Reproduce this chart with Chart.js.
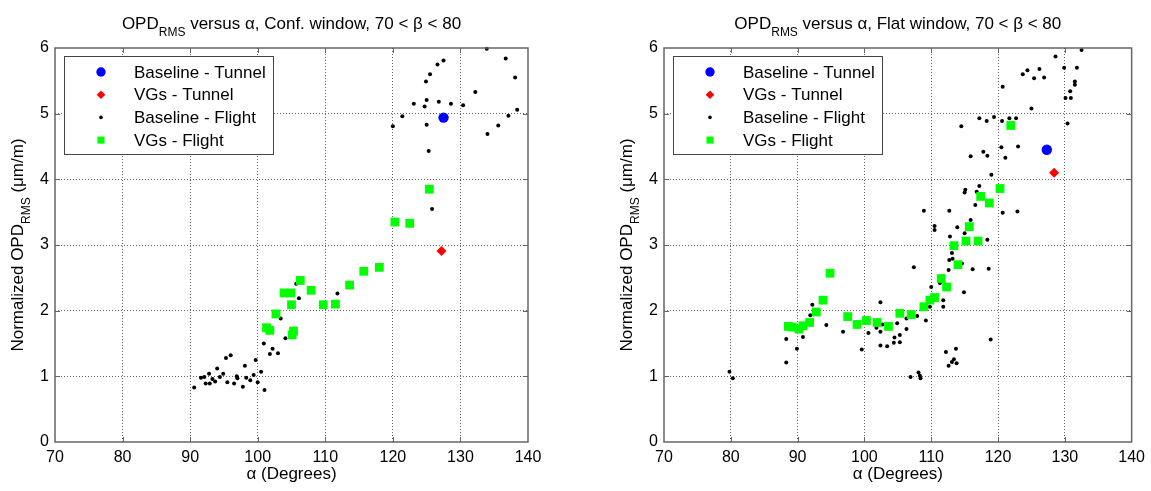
<!DOCTYPE html>
<html>
<head>
<meta charset="utf-8">
<script src="https://cdn.jsdelivr.net/npm/chart.js@4.4.1/dist/chart.umd.min.js"></script>
<style>
  body { margin: 0; background: #fff; }
  canvas { position: absolute; top: 0; }
  #conf { left: 0; }
  #flat { left: 575px; }
</style>
</head>
<body>
<canvas id="conf" width="575" height="491"></canvas>
<canvas id="flat" width="576" height="491"></canvas>
<script>
// axis ticks
var ticksX = [70, 80, 90, 100, 110, 120, 130, 140];
var ticksY = [0, 1, 2, 3, 4, 5, 6];

// Conf. window
var confBaseTunnelAlpha = [127.5];
var confBaseTunnelOpd = [4.94];
var confVgTunnelAlpha = [127.2];
var confVgTunnelOpd = [2.91];
var confBaseFlightAlpha = [90.6, 91.6, 92.1, 92.3, 92.8, 92.9, 93.3, 93.7, 94.0, 94.4, 94.9, 95.3, 95.5, 96.0, 96.5, 96.9, 97.0, 97.8, 98.1, 98.3,
  98.9, 99.4, 99.7, 100.0, 100.5, 100.9, 101.0, 101.8, 102.2, 103.0, 103.4, 104.1, 105.7, 106.1, 111.8, 120.0, 121.4, 123.1, 124.7, 124.9,
  125.0, 125.0, 125.3, 125.5, 125.8, 126.6, 126.8, 127.5, 128.6, 130.4, 132.2, 133.9, 134.0, 135.6, 136.7, 137.1, 138.1, 138.4];
var confBaseFlightOpd = [0.83, 0.98, 0.99, 0.89, 1.04, 0.89, 0.96, 0.92, 1.12, 0.99, 1.04, 1.28, 0.91, 1.32, 0.89, 1.00, 0.97, 0.84, 1.16, 0.98,
  0.94, 1.02, 1.25, 0.91, 1.07, 1.50, 0.79, 1.34, 1.42, 1.35, 1.88, 1.58, 2.41, 2.19, 2.26, 4.81, 4.96, 5.15, 5.11, 5.49,
  5.21, 4.83, 4.43, 5.60, 3.55, 5.75, 5.18, 5.81, 5.15, 5.13, 5.33, 5.99, 4.69, 4.82, 5.84, 4.97, 5.55, 5.06];
var confVgFlightAlpha = [101.3, 101.8, 102.7, 103.9, 104.9, 105.0, 105.1, 105.3, 106.3, 107.9, 109.7, 111.5, 113.6, 115.7, 118.0, 120.3, 122.5, 125.4];
var confVgFlightOpd = [1.74, 1.70, 1.95, 2.27, 2.27, 2.09, 1.63, 1.69, 2.46, 2.31, 2.09, 2.10, 2.39, 2.60, 2.66, 3.35, 3.33, 3.85];

// Flat window
var flatBaseTunnelAlpha = [127.3];
var flatBaseTunnelOpd = [4.45];
var flatVgTunnelAlpha = [128.4];
var flatVgTunnelOpd = [4.10];
var flatBaseFlightAlpha = [79.8, 80.3, 88.3, 88.3, 89.9, 90.8, 91.9, 92.2, 94.3, 96.8, 99.6, 100.6, 101.8, 102.4, 102.4, 102.4, 102.7, 103.4, 104.5, 104.4,
  104.9, 105.3, 105.3, 106.3, 106.3, 106.9, 107.4, 107.9, 108.1, 108.3, 108.4, 108.9, 109.2, 109.8, 110.0, 110.5, 110.5, 111.3, 111.8, 111.8,
  112.2, 112.6, 112.6, 112.7, 112.7, 112.8, 113.1, 113.1, 113.2, 113.4, 113.7, 113.8, 113.9, 114.5, 114.6, 114.9, 115.0, 115.0, 115.1, 115.9,
  115.9, 116.2, 116.6, 116.8, 117.2, 117.2, 117.8, 118.3, 118.4, 118.4, 118.6, 118.9, 119.0, 119.4, 120.5, 120.6, 120.7, 120.7, 121.1, 121.7,
  122.7, 122.9, 123.0, 123.7, 124.4, 125.0, 125.4, 126.2, 126.9, 128.6, 129.9, 130.1, 130.4, 130.8, 130.9, 131.5, 131.5, 131.8, 132.5];
var flatBaseFlightOpd = [1.07, 0.97, 1.57, 1.21, 1.42, 1.60, 1.93, 2.09, 1.78, 1.68, 1.41, 1.66, 1.74, 2.13, 1.68, 1.47, 1.79, 1.46, 1.59, 1.51,
  1.81, 1.63, 1.52, 1.88, 1.72, 0.99, 2.66, 1.92, 1.06, 1.01, 0.97, 3.52, 1.85, 2.06, 2.36, 3.29, 3.23, 2.42, 2.16, 2.06,
  1.37, 1.16, 2.62, 2.77, 3.52, 3.13, 1.22, 2.88, 2.79, 1.26, 1.42, 1.20, 3.27, 4.81, 2.72, 2.28, 3.18, 3.80, 3.84, 3.38,
  4.35, 2.63, 3.61, 3.81, 3.90, 4.93, 4.42, 4.89, 4.36, 3.08, 2.64, 1.56, 4.07, 4.95, 4.49, 4.89, 3.49, 5.41, 4.33, 4.93,
  4.93, 3.51, 4.50, 5.60, 5.66, 5.08, 5.54, 5.68, 5.55, 5.87, 5.70, 5.24, 4.85, 5.34, 5.24, 5.49, 5.44, 5.70, 5.97];
var flatVgFlightAlpha = [88.6, 89.2, 90.2, 90.8, 91.8, 92.8, 93.8, 94.85, 97.5, 98.9, 100.3, 101.9, 103.6, 105.3, 107.0, 108.9, 109.8, 110.5, 111.5, 112.3,
  113.4, 114.0, 115.2, 115.7, 117.0, 117.4, 118.7, 120.3, 121.9];
var flatVgFlightOpd = [1.76, 1.75, 1.72, 1.77, 1.82, 1.98, 2.16, 2.57, 1.91, 1.79, 1.85, 1.82, 1.76, 1.96, 1.94, 2.06, 2.16, 2.20, 2.49, 2.36,
  2.99, 2.70, 3.06, 3.28, 3.06, 3.74, 3.64, 3.86, 4.82];

var FONT = "'Liberation Sans', Arial, sans-serif";
var AXIS_COLOR = '#666';

function pts(xs, ys) {
  return xs.map(function(x, i) { return { x: x, y: ys[i] }; });
}

// draws text runs, some of them as subscripts, centred on (x, y)
function drawRuns(ctx, runs, x, y) {
  var total = 0;
  runs.forEach(function(r) {
    ctx.font = (r.sub ? 12 : 17) + 'px ' + FONT;
    r.w = ctx.measureText(r.t).width;
    total += r.w;
  });
  var cx = x - total / 2;
  ctx.textAlign = 'left';
  ctx.textBaseline = 'alphabetic';
  runs.forEach(function(r) {
    ctx.font = (r.sub ? 12 : 17) + 'px ' + FONT;
    ctx.fillText(r.t, cx, y + (r.sub ? 7 : 0));
    cx += r.w;
  });
}

var framePlugin = {
  id: 'frame',
  afterDraw: function(chart, args, opts) {
    var ctx = chart.ctx, a = chart.chartArea;
    var xs = chart.scales.x, ys = chart.scales.y;
    ctx.save();

    // axes box with inside ticks
    ctx.strokeStyle = AXIS_COLOR;
    ctx.lineWidth = 1.5;
    ctx.strokeRect(a.left, a.top, a.right - a.left, a.bottom - a.top);
    ctx.lineWidth = 1;
    ctx.beginPath();
    ticksX.slice(1, -1).forEach(function(v) {
      var px = Math.round(xs.getPixelForValue(v)) + 0.5;
      ctx.moveTo(px, a.bottom); ctx.lineTo(px, a.bottom - 5);
      ctx.moveTo(px, a.top); ctx.lineTo(px, a.top + 5);
    });
    ticksY.slice(1, -1).forEach(function(v) {
      var py = Math.round(ys.getPixelForValue(v)) + 0.5;
      ctx.moveTo(a.left, py); ctx.lineTo(a.left + 5, py);
      ctx.moveTo(a.right, py); ctx.lineTo(a.right - 5, py);
    });
    ctx.stroke();

    // legend
    var bx = a.left + 9, by = a.top + 8, bw = 209, bh = 98;
    ctx.fillStyle = '#fff';
    ctx.fillRect(bx, by, bw, bh);
    ctx.strokeStyle = '#444';
    ctx.strokeRect(bx + 0.5, by + 0.5, bw, bh);
    chart.data.datasets.forEach(function(ds, i) {
      var y = a.top + 24 + i * 22.7;
      ctx.fillStyle = ds.backgroundColor;
      Chart.helpers.drawPoint(ctx, { pointStyle: ds.pointStyle, radius: ds.legendRadius, rotation: 0, borderWidth: 0 }, a.left + 46, y);
      ctx.fillStyle = '#000';
      ctx.font = '17px ' + FONT;
      ctx.textAlign = 'left';
      ctx.textBaseline = 'middle';
      ctx.fillText(ds.label, a.left + 79, y + 1);
    });

    ctx.fillStyle = '#000';
    var mid = (a.left + a.right) / 2;
    // title
    drawRuns(ctx, [{ t: 'OPD' }, { t: 'RMS', sub: true }, { t: opts.rest }], mid, 29);
    // x axis title
    drawRuns(ctx, [{ t: '\u03B1 (Degrees)' }], mid, 479);
    // y axis title
    ctx.translate(a.left - 32, (a.top + a.bottom) / 2);
    ctx.rotate(-Math.PI / 2);
    drawRuns(ctx, [{ t: 'Normalized OPD' }, { t: 'RMS', sub: true }, { t: ' (\u03BCm/m)' }], 0, 0);
    ctx.restore();
  }
};

function gridColor(c) {
  var n = c.scale.ticks.length;
  return (c.index === 0 || c.index === n - 1) ? 'rgba(0,0,0,0)' : 'rgba(0,0,0,0.6)';
}

function makeChart(id, d, rest, yWidth, rightPad) {
  return new Chart(document.getElementById(id), {
    type: 'scatter',
    data: {
      datasets: [
        { label: 'Baseline - Tunnel', data: pts(d[0], d[1]), pointStyle: 'circle', pointRadius: 5.2, legendRadius: 4.7,
          backgroundColor: '#0000ff', pointBorderWidth: 0, order: 4, clip: false },
        { label: 'VGs - Tunnel', data: pts(d[2], d[3]), pointStyle: 'rectRot', pointRadius: 5, legendRadius: 4.3,
          backgroundColor: '#ff0000', pointBorderWidth: 0, order: 3, clip: false },
        { label: 'Baseline - Flight', data: pts(d[4], d[5]), pointStyle: 'circle', pointRadius: 2, legendRadius: 1.8,
          backgroundColor: '#000000', pointBorderWidth: 0, order: 2, clip: false },
        { label: 'VGs - Flight', data: pts(d[6], d[7]), pointStyle: 'rect', pointRadius: 6.2, legendRadius: 5,
          backgroundColor: '#00ff00', pointBorderWidth: 0, order: 1, clip: false }
      ]
    },
    options: {
      responsive: false,
      animation: false,
      events: [],
      layout: { padding: { top: 48, right: rightPad, bottom: 0, left: 0 } },
      plugins: {
        legend: { display: false },
        tooltip: { enabled: false },
        frame: { rest: rest }
      },
      scales: {
        x: {
          type: 'linear', min: 70, max: 140,
          afterBuildTicks: function(s) { s.ticks = ticksX.map(function(v) { return { value: v }; }); },
          afterFit: function(s) { s.height = 49; },
          ticks: { color: '#000', font: { family: FONT, size: 16 }, padding: 6, maxRotation: 0 },
          grid: { color: gridColor, drawTicks: false, lineWidth: 1 },
          border: { display: false, dash: [1, 2] }
        },
        y: {
          type: 'linear', min: 0, max: 6,
          afterBuildTicks: function(s) { s.ticks = ticksY.map(function(v) { return { value: v }; }); },
          afterFit: function(s) { s.width = yWidth; },
          ticks: { color: '#000', font: { family: FONT, size: 16 }, padding: 6 },
          grid: { color: gridColor, drawTicks: false, lineWidth: 1 },
          border: { display: false, dash: [1, 2] }
        }
      }
    },
    plugins: [framePlugin]
  });
}

makeChart('conf', [confBaseTunnelAlpha, confBaseTunnelOpd, confVgTunnelAlpha, confVgTunnelOpd,
  confBaseFlightAlpha, confBaseFlightOpd, confVgFlightAlpha, confVgFlightOpd],
  ' versus \u03B1, Conf. window, 70 < \u03B2 < 80', 55, 47);
makeChart('flat', [flatBaseTunnelAlpha, flatBaseTunnelOpd, flatVgTunnelAlpha, flatVgTunnelOpd,
  flatBaseFlightAlpha, flatBaseFlightOpd, flatVgFlightAlpha, flatVgFlightOpd],
  ' versus \u03B1, Flat window, 70 < \u03B2 < 80', 89, 18);
</script>
</body>
</html>
